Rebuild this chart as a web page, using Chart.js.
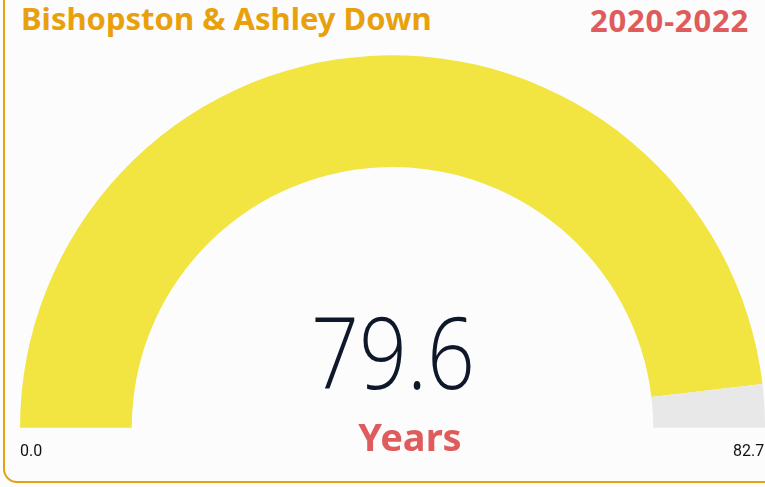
<!DOCTYPE html>
<html>
<head>
<meta charset="utf-8">
<script src="https://cdn.jsdelivr.net/npm/chart.js@4"></script>
<style>
  html, body { margin: 0; padding: 0; background: #fcfcfc; overflow: hidden; }
  body { width: 765px; height: 487px; position: relative; font-family: "Noto Sans", sans-serif; }
  .card { position: absolute; left: 3px; top: -12px; width: 800px; height: 495px;
          border: 2px solid #e8a10c; border-radius: 14px; box-sizing: border-box; }
  .title { position: absolute; left: 21px; top: -3px; font-size: 31px; font-weight: 700; color: #e8a10c; white-space: nowrap; }
  .period { position: absolute; right: 16px; top: -1px; font-size: 31px; font-weight: 700; color: #e05c5c; letter-spacing: 0.8px; white-space: nowrap; }
  .chartBox { position: absolute; left: 20px; top: 55px; width: 745px; height: 373px; }
  .value { position: absolute; left: 0; width: 786px; top: 300px; text-align: center;
           font-family: "Open Sans", sans-serif; font-weight: 300; font-size: 100px; color: #0f172a; line-height: 1;
           transform: scaleX(0.84); transform-origin: 393px 0; }
  .unit { position: absolute; left: 0; width: 820px; top: 417px; text-align: center;
          font-size: 38px; font-weight: 700; color: #e05c5c; line-height: 1; }
  .minLbl { position: absolute; left: 20px; top: 441px; font-family: Roboto, sans-serif; font-size: 16px; color: #111; }
  .maxLbl { position: absolute; left: 733px; top: 441px; font-family: Roboto, sans-serif; font-size: 16px; color: #111; white-space: nowrap; }
</style>
</head>
<body>
<div class="card"></div>
<div class="title" id="title"></div>
<div class="period" id="period"></div>
<div class="chartBox"><canvas id="gauge"></canvas></div>
<div class="value" id="value"></div>
<div class="unit" id="unit"></div>
<div class="minLbl" id="minLbl"></div>
<div class="maxLbl" id="maxLbl"></div>
<script>
const areaName = "Bishopston & Ashley Down";
const periodLabel = "2020-2022";
const unitLabel = "Years";
const gaugeValue = [79.6];
const gaugeRange = [0.0, 82.7];
const gaugeColours = ["#f2e441", "#e8e8e8"];

document.getElementById('title').textContent = areaName;
document.getElementById('period').textContent = periodLabel;
document.getElementById('unit').textContent = unitLabel;
document.getElementById('value').textContent = gaugeValue[0].toFixed(1);
document.getElementById('minLbl').textContent = gaugeRange[0].toFixed(1);
document.getElementById('maxLbl').textContent = gaugeRange[1].toFixed(1);

const filled = gaugeValue[0] - gaugeRange[0];
const rest = gaugeRange[1] - gaugeValue[0];

new Chart(document.getElementById('gauge').getContext('2d'), {
    type: 'doughnut',
    data: {
        labels: ["Value", "Remaining"],
        datasets: [{
            data: [filled, rest],
            backgroundColor: gaugeColours,
            borderWidth: 0
        }]
    },
    options: {
        responsive: true,
        maintainAspectRatio: false,
        animation: false,
        rotation: -90,
        circumference: 180,
        cutout: '70%',
        layout: { padding: 0 },
        plugins: { legend: { display: false }, tooltip: { enabled: false } }
    }
});
</script>
</body>
</html>
